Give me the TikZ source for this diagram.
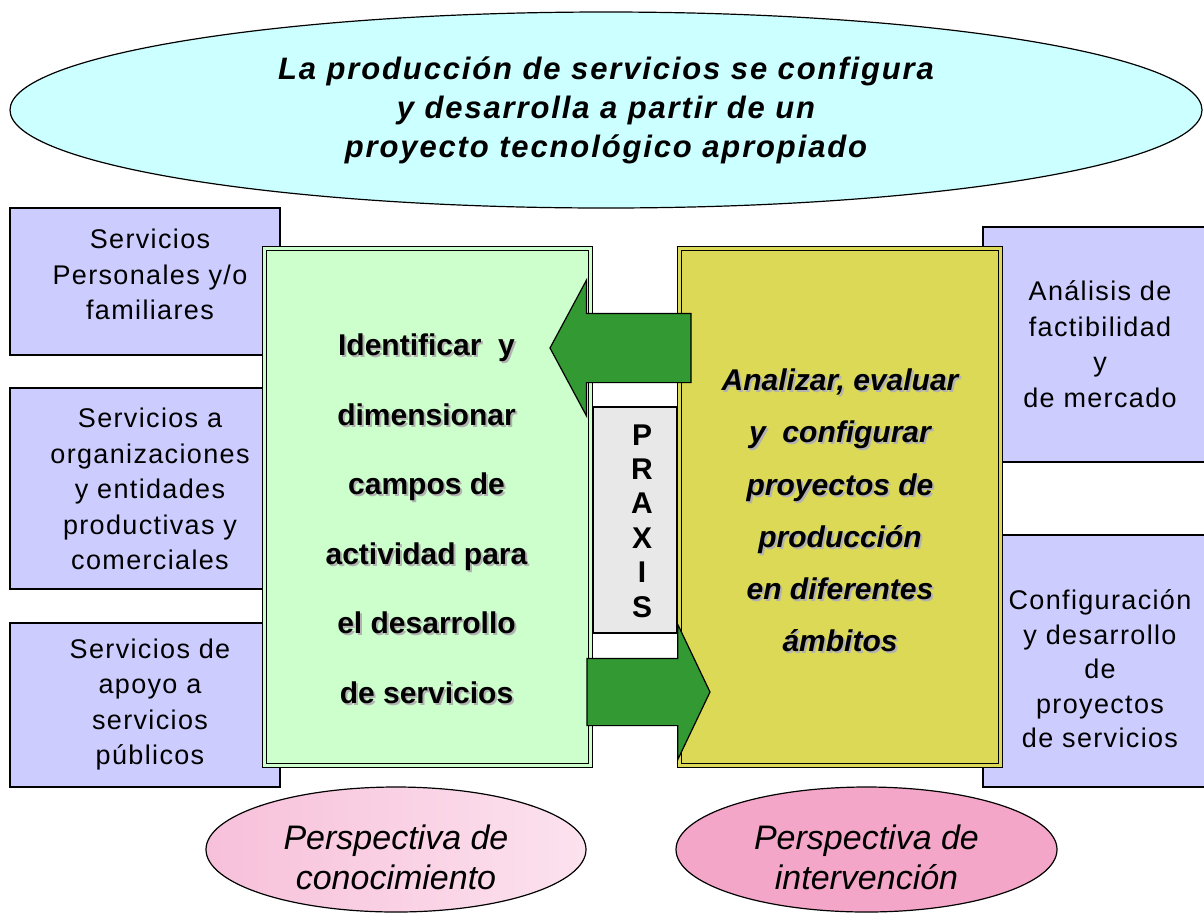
\documentclass[tikz,border=0pt]{standalone}
\usepackage{fontspec}
\setmainfont{Liberation Sans}
\usetikzlibrary{shapes.geometric,shapes.arrows}

\definecolor{skyfill}{RGB}{204,255,255}
\definecolor{lavfill}{RGB}{204,204,255}
\definecolor{mintfill}{RGB}{204,255,204}
\definecolor{olivefill}{RGB}{219,217,85}
\definecolor{arrowgreen}{RGB}{51,153,51}
\definecolor{praxisgray}{RGB}{232,232,232}
\definecolor{pinklight}{RGB}{247,192,218}
\definecolor{pinkpale}{RGB}{252,226,238}
\definecolor{pinkdeep}{RGB}{244,166,200}

% text with a soft grey drop shadow
\newcommand{\shd}[1]{\makebox[0pt][l]{\hspace{2pt}\raisebox{-2pt}{\textcolor{black!30}{#1}}}#1}

\tikzset{
  oval/.style={draw, ellipse, line width=1.2pt, inner sep=0pt},
  svcbox/.style={draw, rectangle, fill=lavfill, line width=1.4pt, inner sep=0pt},
  bigbox/.style={draw, rectangle, line width=1.2pt, double distance=3pt, inner sep=0pt},
  blockarrow/.style={draw, single arrow, fill=arrowgreen, line width=1.2pt,
    inner xsep=0pt, outer sep=0pt, single arrow head indent=0pt},
  svctext/.style={align=center, inner sep=0pt,
    font=\fontsize{27}{35.5}\selectfont\addfontfeatures{LetterSpace=5}},
}

\begin{document}
\begin{tikzpicture}[x=1pt,y=-1pt]
  \useasboundingbox (0,0) rectangle (1204,914);

  % top idea
  \node [oval, fill=skyfill, minimum width=1192, minimum height=196,
         align=center,
         font=\fontsize{31}{39}\selectfont\bfseries\itshape\addfontfeatures{LetterSpace=6}]
        (idea) at (606,110)
        {La producción de servicios se configura\\
         y desarrolla a partir de un\\
         proyecto tecnológico apropiado};

  % service fields (left)
  \node [svcbox, minimum width=270, minimum height=147] (svc1) at (145,281.5) {};
  \node [svcbox, minimum width=270, minimum height=201] (svc2) at (145,488.5) {};
  \node [svcbox, minimum width=270, minimum height=164] (svc3) at (145,705) {};

  % project tasks (right)
  \node [svcbox, minimum width=247, minimum height=235] (ana) at (1106.5,344.5) {};
  \node [svcbox, minimum width=247, minimum height=252] (cfg) at (1106.5,661) {};

  % praxis strip
  \node [draw, rectangle, fill=praxisgray, line width=1.2pt, inner sep=0pt,
         minimum width=84, minimum height=226] (praxis) at (635,520) {};

  % main boxes
  \node [bigbox, fill=mintfill, double=mintfill,
         minimum width=326, minimum height=517] (know) at (427.5,507) {};
  \node [bigbox, fill=olivefill, double=olivefill,
         minimum width=321, minimum height=517] (act) at (840,507) {};

  % block arrows
  \node [blockarrow, shape border rotate=180, anchor=tip,
         minimum height=141, inner ysep=34pt,
         single arrow head extend=33.5pt, single arrow tip angle=123.5]
        (back) at (550,348) {};
  \node [blockarrow, anchor=tail,
         minimum height=123, inner ysep=33pt,
         single arrow head extend=34pt, single arrow tip angle=129]
        (forth) at (587,692) {};

  % texts
  \node [svctext] (svc1txt) at (150,274.5) {Servicios\\Personales y/o\\familiares};
  \node [svctext] (svc2txt) at (150,489)
        {Servicios a\\organizaciones\\y entidades\\productivas y\\comerciales};
  \node [svctext] (svc3txt) at (150,704.5)
        {Servicios de\\apoyo a\\servicios\\públicos};
  \node [svctext] (anatxt) at (1100,344)
        {Análisis de\\factibilidad\\y\\de mercado};
  \node [svctext, font=\fontsize{27}{34.5}\selectfont\addfontfeatures{LetterSpace=5}]
        (cfgtxt) at (1100,669)
        {Configuración\\y desarrollo\\de\\proyectos\\de servicios};

  \node [align=center, inner sep=0pt, font=\fontsize{30}{69.5}\selectfont\bfseries]
        (knowtxt) at (426.5,520)
        {\shd{Identificar~ y}\\ \shd{dimensionar}\\ \shd{campos de}\\
         \shd{actividad para}\\ \shd{el desarrollo}\\ \shd{de servicios}};
  \node [align=center, inner sep=0pt, font=\fontsize{30}{52.2}\selectfont\bfseries\itshape]
        (acttxt) at (840,511.5)
        {\shd{Analizar, evaluar}\\ \shd{y~ configurar}\\ \shd{proyectos de}\\
         \shd{producción}\\ \shd{en diferentes}\\ \shd{ámbitos}};
  \node [align=center, inner sep=0pt, font=\fontsize{30}{34.4}\selectfont\bfseries]
        (praxistxt) at (642,521) {P\\R\\A\\X\\I\\S};

  % perspectives
  \node [oval, left color=pinklight, right color=pinkpale,
         minimum width=380, minimum height=125] (kview) at (396,849.5) {};
  \node [oval, fill=pinkdeep, minimum width=381, minimum height=125] (iview) at (866.5,849.5) {};
  \node [align=center, inner sep=0pt, font=\fontsize{34}{40}\selectfont\itshape]
        (kviewtxt) at (396,857) {Perspectiva de\\conocimiento};
  \node [align=center, inner sep=0pt, font=\fontsize{34}{40}\selectfont\itshape]
        (iviewtxt) at (866.5,857) {Perspectiva de\\intervención};
\end{tikzpicture}
\end{document}
